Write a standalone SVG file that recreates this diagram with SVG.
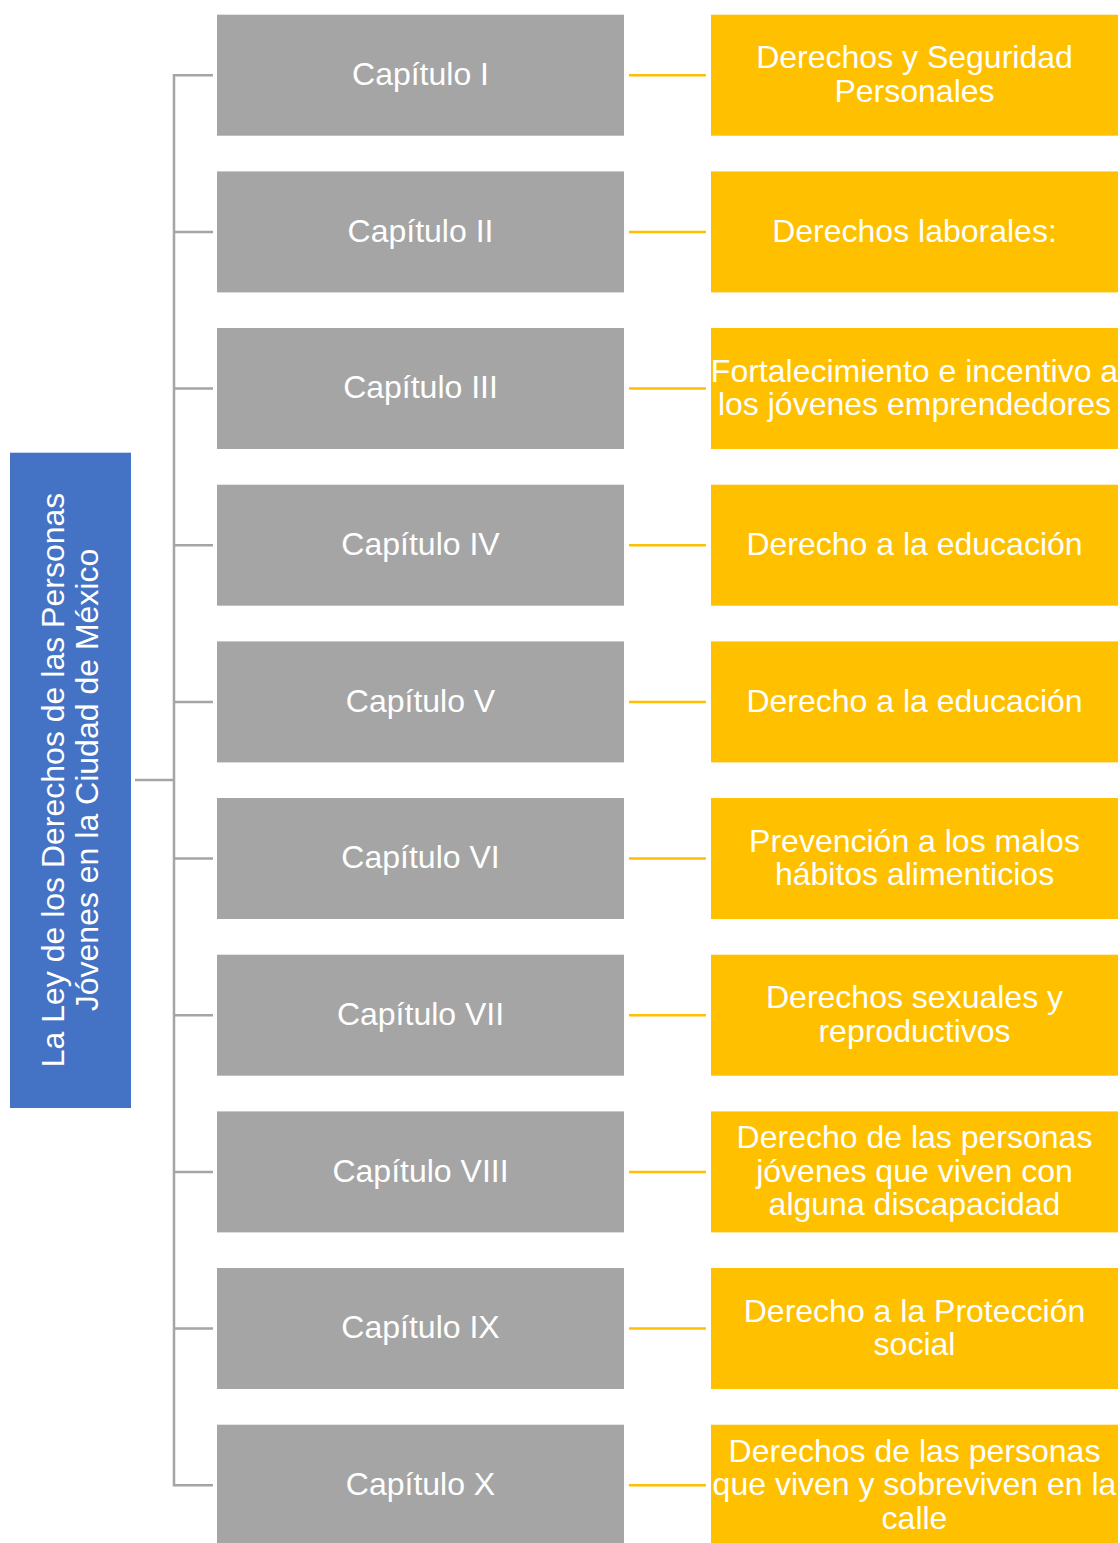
<svg xmlns="http://www.w3.org/2000/svg" width="1120" height="1543" viewBox="0 0 1120 1543">
<style>
.g{fill:#A5A5A5}
.y{fill:#FFC000}
.b{fill:#4472C4}
text{font-family:"Liberation Sans",Arial,sans-serif;font-size:32px;fill:#FFFFFF;text-anchor:middle}
.cg{stroke:#A5A5A5;stroke-width:2.5;fill:none}
.cy{stroke:#FFC000;stroke-width:2.5;fill:none}
</style>
<rect width="1120" height="1543" fill="#FFFFFF"/>
<g id="connectors">
<path class="cg" d="M135,780H174M213,75.2H174V1485.2H213M174,231.9H213M174,388.5H213M174,545.2H213M174,701.9H213M174,858.5H213M174,1015.2H213M174,1171.9H213M174,1328.5H213"/>
<path class="cy" d="M629,75.2H706M629,231.9H706M629,388.5H706M629,545.2H706M629,701.9H706M629,858.5H706M629,1015.2H706M629,1171.9H706M629,1328.5H706M629,1485.2H706"/>
</g>
<g id="root">
<rect class="b" x="10" y="452.7" width="121" height="655.3"/>
<g transform="translate(70,780) rotate(-90)">
<text x="0" y="-6">La Ley de los Derechos de las Personas</text>
<text x="0" y="27.5">Jóvenes en la Ciudad de México</text>
</g>
</g>
<g id="cap1"><rect class="g" x="217" y="14.7" width="407" height="121"/><text x="420.5" y="85">Capítulo I</text></g>
<g id="cap2"><rect class="g" x="217" y="171.4" width="407" height="121"/><text x="420.5" y="241.7">Capítulo II</text></g>
<g id="cap3"><rect class="g" x="217" y="328" width="407" height="121"/><text x="420.5" y="398.3">Capítulo III</text></g>
<g id="cap4"><rect class="g" x="217" y="484.7" width="407" height="121"/><text x="420.5" y="555">Capítulo IV</text></g>
<g id="cap5"><rect class="g" x="217" y="641.4" width="407" height="121"/><text x="420.5" y="711.7">Capítulo V</text></g>
<g id="cap6"><rect class="g" x="217" y="798" width="407" height="121"/><text x="420.5" y="868.3">Capítulo VI</text></g>
<g id="cap7"><rect class="g" x="217" y="954.7" width="407" height="121"/><text x="420.5" y="1025">Capítulo VII</text></g>
<g id="cap8"><rect class="g" x="217" y="1111.4" width="407" height="121"/><text x="420.5" y="1181.7">Capítulo VIII</text></g>
<g id="cap9"><rect class="g" x="217" y="1268" width="407" height="121"/><text x="420.5" y="1338.3">Capítulo IX</text></g>
<g id="cap10"><rect class="g" x="217" y="1424.7" width="407" height="121"/><text x="420.5" y="1495">Capítulo X</text></g>
<g id="der1"><rect class="y" x="711" y="14.7" width="407" height="121"/><text x="914.5" y="68.2">Derechos y Seguridad</text><text x="914.5" y="101.7">Personales</text></g>
<g id="der2"><rect class="y" x="711" y="171.4" width="407" height="121"/><text x="914.5" y="241.7">Derechos laborales:</text></g>
<g id="der3"><rect class="y" x="711" y="328" width="407" height="121"/><text x="914.5" y="381.5">Fortalecimiento e incentivo a</text><text x="914.5" y="415">los jóvenes emprendedores</text></g>
<g id="der4"><rect class="y" x="711" y="484.7" width="407" height="121"/><text x="914.5" y="555">Derecho a la educación</text></g>
<g id="der5"><rect class="y" x="711" y="641.4" width="407" height="121"/><text x="914.5" y="711.7">Derecho a la educación</text></g>
<g id="der6"><rect class="y" x="711" y="798" width="407" height="121"/><text x="914.5" y="851.5">Prevención a los malos</text><text x="914.5" y="885">hábitos alimenticios</text></g>
<g id="der7"><rect class="y" x="711" y="954.7" width="407" height="121"/><text x="914.5" y="1008.2">Derechos sexuales y</text><text x="914.5" y="1041.7">reproductivos</text></g>
<g id="der8"><rect class="y" x="711" y="1111.4" width="407" height="121"/><text x="914.5" y="1148.2">Derecho de las personas</text><text x="914.5" y="1181.7">jóvenes que viven con</text><text x="914.5" y="1215.2">alguna discapacidad</text></g>
<g id="der9"><rect class="y" x="711" y="1268" width="407" height="121"/><text x="914.5" y="1321.5">Derecho a la Protección</text><text x="914.5" y="1355">social</text></g>
<g id="der10"><rect class="y" x="711" y="1424.7" width="407" height="121"/><text x="914.5" y="1461.5">Derechos de las personas</text><text x="914.5" y="1495">que viven y sobreviven en la</text><text x="914.5" y="1528.5">calle</text></g>
</svg>
